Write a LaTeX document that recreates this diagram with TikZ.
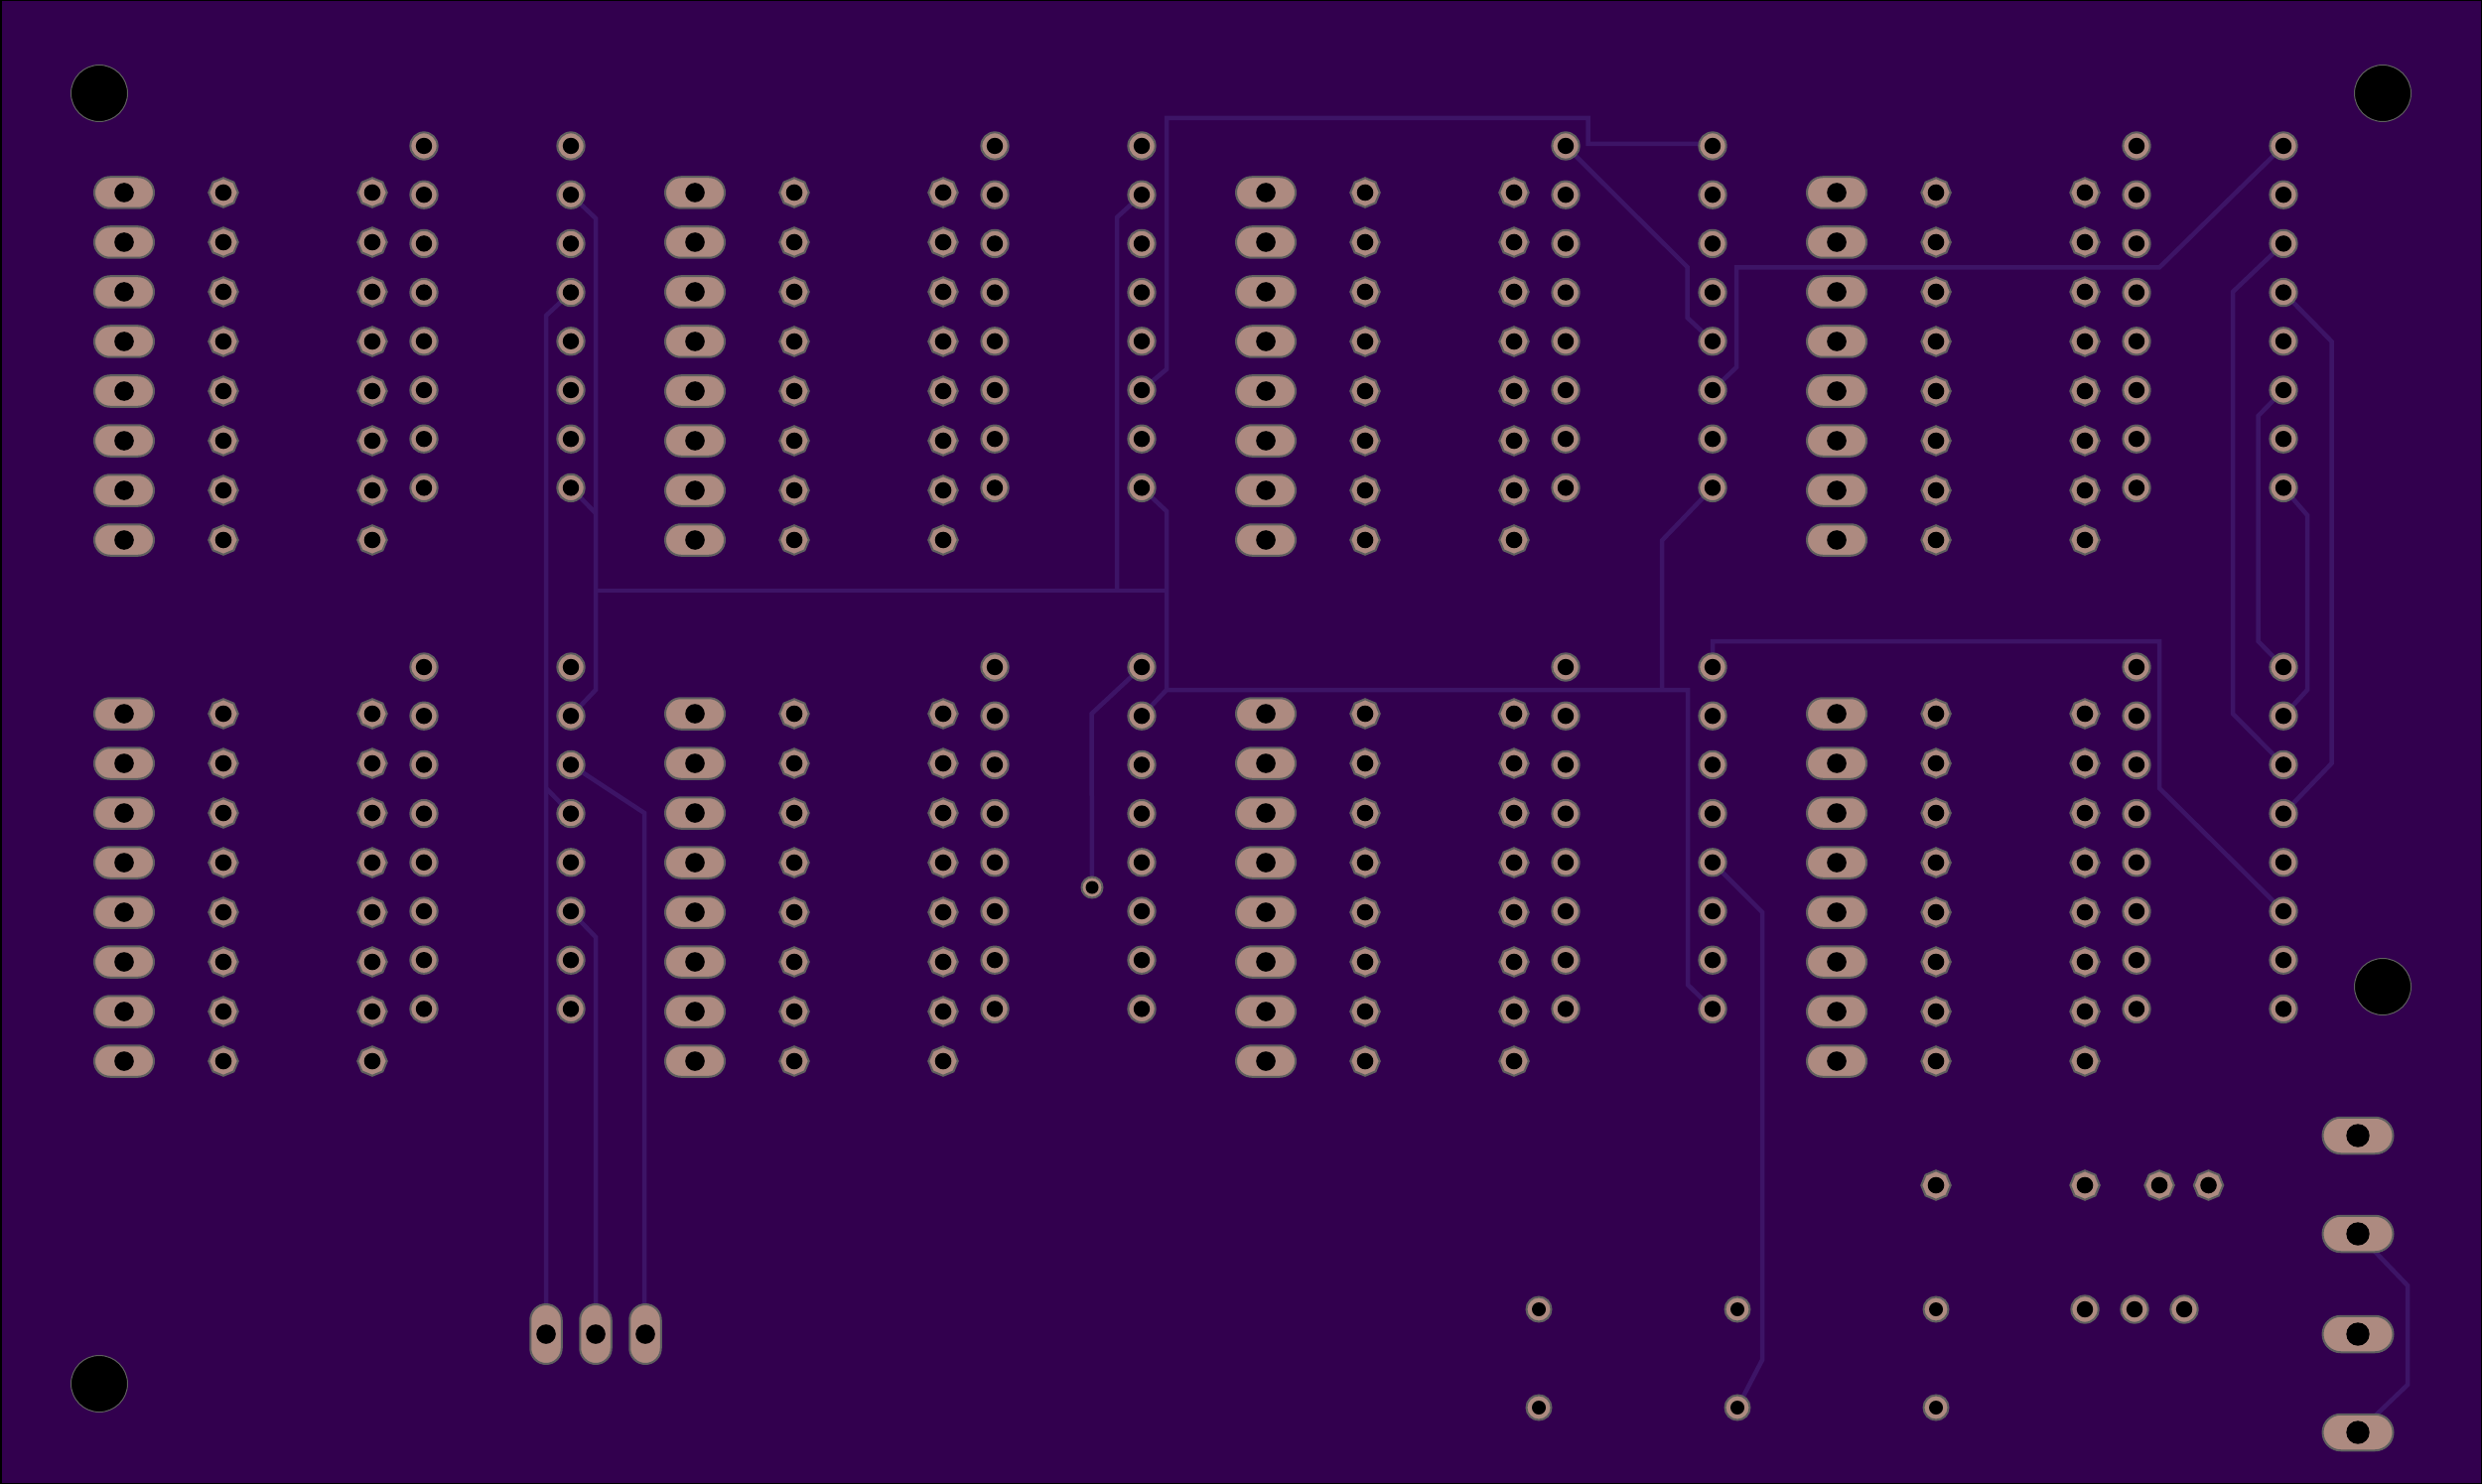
\documentclass[tikz,border=0pt]{standalone}
\usetikzlibrary{shapes.geometric,shapes.misc,backgrounds}
\definecolor{board}{HTML}{32004E}
\definecolor{trace}{HTML}{3D1466}
\definecolor{copper}{HTML}{AD8A80}
\definecolor{rim}{HTML}{5F5F5F}
\tikzset{
  x=1pt,y=-1pt,
  drilled/.style={path picture={\fill[black] (path picture bounding box.center) circle (#1);}},
  padbase/.style={draw=rim,fill=copper,line width=2pt,inner sep=0pt,outer sep=0pt},
  padoct/.style={padbase,regular polygon,regular polygon sides=8,shape border rotate=22.5,minimum size=29.5pt,drilled=8.3pt},
  padround/.style={padbase,circle,minimum size=27.3pt,drilled=8.2pt},
  padsmall/.style={padbase,circle,minimum size=25pt,drilled=7pt},
  padvia/.style={padbase,circle,minimum size=21pt,drilled=6.5pt},
  padoval/.style={padbase,rounded rectangle,minimum width=60pt,minimum height=31.5pt,drilled=9.8pt},
  padvert/.style={padbase,rounded rectangle,minimum width=60pt,minimum height=31.5pt,rotate=90,drilled=9.8pt},
  padbig/.style={padbase,rounded rectangle,minimum width=71pt,minimum height=36.5pt,drilled=11.7pt},
  mounthole/.style={draw=rim,fill=black,line width=1pt,circle,inner sep=0pt,outer sep=0pt,minimum size=57pt},
  wire/.style={draw=trace,line width=4.5pt,line join=miter},
}
\begin{document}
\begin{tikzpicture}
\useasboundingbox (0,0) rectangle (2500,1495);
% pad blocks: T=top, B=bottom; groups 1..4; columns a..e
\foreach \blk/\ya/\yd in {T/194/147,B/719/672}{
  \foreach \g/\xo in {1/0,2/575,3/1150,4/1725}{
    \foreach \k in {0,...,7}{
      \pgfmathsetmacro{\yy}{\ya+50*\k}
      \pgfmathsetmacro{\yz}{\yd+49.2*\k}
      \node[padoval] (\blk\g a\k) at (125+\xo,\yy) {};
      \node[padoct]  (\blk\g b\k) at (225+\xo,\yy) {};
      \node[padoct]  (\blk\g c\k) at (375+\xo,\yy) {};
      \node[padround](\blk\g d\k) at (427+\xo,\yz) {};
      \node[padround](\blk\g e\k) at (575+\xo,\yz) {};
    }
  }
}
% mounting holes
\node[mounthole] (m1) at (100,94) {};
\node[mounthole] (m2) at (2400,94) {};
\node[mounthole] (m3) at (2400,994) {};
\node[mounthole] (m4) at (100,1394) {};
% lower connectors
\node[padvert] (j1) at (550,1344) {};
\node[padvert] (j2) at (600,1344) {};
\node[padvert] (j3) at (650,1344) {};
\node[padbig] (k1) at (2375,1144) {};
\node[padbig] (k2) at (2375,1243) {};
\node[padbig] (k3) at (2375,1344) {};
\node[padbig] (k4) at (2375,1443) {};
\node[padvia] (via) at (1100,894) {};
% loose pads
\node[padoct] (u1) at (1950,1194) {};
\node[padoct] (u2) at (2100,1194) {};
\node[padoct] (u3) at (2175,1194) {};
\node[padoct] (u4) at (2224.5,1194) {};
\node[padsmall] (s1) at (1550,1319) {};
\node[padsmall] (s2) at (1750,1319) {};
\node[padsmall] (s3) at (1950,1319) {};
\node[padround] (r1) at (2100,1319) {};
\node[padround] (r2) at (2150,1319) {};
\node[padround] (r3) at (2200,1319) {};
\node[padsmall] (q1) at (1550,1418) {};
\node[padsmall] (q2) at (1750,1418) {};
\node[padsmall] (q3) at (1950,1418) {};
\begin{scope}[on background layer]
  \fill[black] (0,0) rectangle (2500,1495);
  \fill[board] (1.5,1.5) rectangle (2498.5,1493.5);
  \begin{scope}[every path/.style={wire}]
  \draw (T2e5.center) -- (1175,372) -- (1175,119) -- (1599.5,119) -- (1599.5,145) -- (1725,145) -- (T3e0.center);
  \draw (T3d0.center) -- (1699.5,269) -- (1699.5,320) -- (T3e4.center);
  \draw (T3e5.center) -- (1749,370) -- (1749,269.5) -- (2175,269.5) -- (T4e0.center);
  \draw (T4e2.center) -- (2249,294) -- (2249,719) -- (B4e2.center);
  \draw (T4e5.center) -- (2274.5,419) -- (2274.5,646) -- (B4e0.center);
  \draw (T4e3.center) -- (2348.5,344) -- (2348.5,769) -- (B4e3.center);
  \draw (T4e7.center) -- (2324,519) -- (2324,695) -- (B4e1.center);
  \draw (T3e7.center) -- (1674,544.5) -- (1674,695);
  \draw (B2e1.center) -- (1175,695) -- (1700,695) -- (1700,992) -- (B3e7.center);
  \draw (T2e7.center) -- (1175,515) -- (1175,695);
  \draw (T1e1.center) -- (600,220) -- (600,695) -- (B1e1.center);
  \draw (T1e7.center) -- (600,517);
  \draw (600,595) -- (1175,595);
  \draw (1125,595) -- (1125,219) -- (T2e1.center);
  \draw (T1e3.center) -- (550,318) -- (550,1344) -- (j1.center);
  \draw (550,794) -- (B1e3.center);
  \draw (B1e2.center) -- (649,819) -- (649,1344) -- (j3.center);
  \draw (B1e5.center) -- (600,944) -- (j2.center);
  \draw (B2e0.center) -- (1099.5,719) -- (via.center);
  \draw (B3e4.center) -- (1775,919) -- (1775,1370) -- (q2.center);
  \draw (k2.center) -- (2425,1295) -- (2425,1395) -- (k4.center);
  \draw (B3e0.center) -- (1725,646) -- (2175,646) -- (2175,794) -- (B4e5.center);
  \end{scope}
\end{scope}
\end{tikzpicture}
\end{document}
